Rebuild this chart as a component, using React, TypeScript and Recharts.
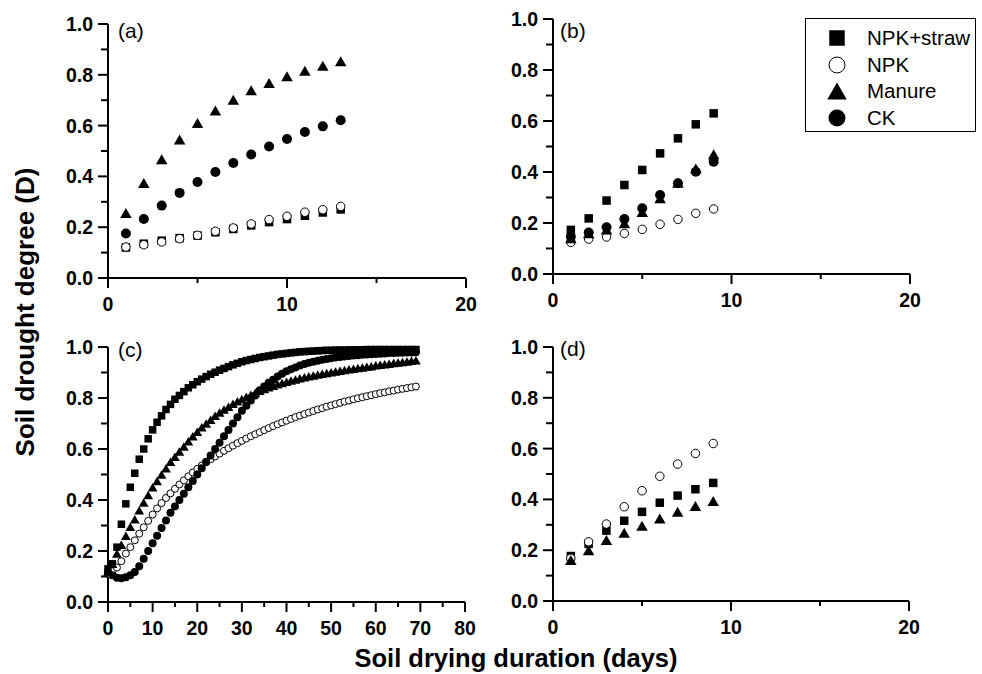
import React from 'react';
import { Scatter, ScatterChart, XAxis, YAxis } from 'recharts';

const FONT = '"Liberation Sans", Arial, Helvetica, sans-serif';

// ---- data ----
const daysA = [1, 2, 3, 4, 5, 6, 7, 8, 9, 10, 11, 12, 13];
const aStraw = [0.12, 0.135, 0.147, 0.157, 0.167, 0.18, 0.193, 0.207, 0.22, 0.232, 0.245, 0.258, 0.27];
const aNPK = [0.122, 0.131, 0.142, 0.155, 0.168, 0.184, 0.197, 0.213, 0.23, 0.243, 0.259, 0.269, 0.282];
const aManure = [0.256, 0.374, 0.468, 0.545, 0.61, 0.659, 0.702, 0.739, 0.768, 0.794, 0.816, 0.836, 0.853];
const aCK = [0.175, 0.232, 0.285, 0.335, 0.378, 0.417, 0.453, 0.486, 0.518, 0.547, 0.575, 0.597, 0.621];

const daysB = [1, 2, 3, 4, 5, 6, 7, 8, 9];
const bStraw = [0.173, 0.218, 0.288, 0.349, 0.408, 0.473, 0.532, 0.587, 0.63];
const bNPK = [0.124, 0.137, 0.145, 0.159, 0.175, 0.195, 0.214, 0.238, 0.255];
const bManure = [0.14, 0.16, 0.175, 0.199, 0.243, 0.297, 0.358, 0.414, 0.47];
const bCK = [0.146, 0.163, 0.183, 0.216, 0.258, 0.31, 0.356, 0.401, 0.44];

const daysC = [
  0, 1, 2, 3, 4, 5, 6, 7, 8, 9, 10, 11, 12, 13, 14, 15, 16, 17, 18, 19, 20, 21, 22, 23, 24,
  25, 26, 27, 28, 29, 30, 31, 32, 33, 34, 35, 36, 37, 38, 39, 40, 41, 42, 43, 44, 45, 46, 47, 48, 49,
  50, 51, 52, 53, 54, 55, 56, 57, 58, 59, 60, 61, 62, 63, 64, 65, 66, 67, 68, 69,
];
const cStraw = [
  0.13, 0.15, 0.215, 0.305, 0.385, 0.45, 0.505, 0.56, 0.6, 0.64, 0.675, 0.705, 0.73, 0.755, 0.775,
  0.795, 0.81, 0.825, 0.84, 0.852, 0.864, 0.874, 0.884, 0.893, 0.901, 0.909, 0.916, 0.923, 0.93, 0.936,
  0.942, 0.947, 0.951, 0.955, 0.959, 0.962, 0.965, 0.968, 0.971, 0.973, 0.975, 0.977, 0.979, 0.981, 0.982,
  0.983, 0.984, 0.985, 0.986, 0.987, 0.987, 0.988, 0.988, 0.988, 0.989, 0.989, 0.989, 0.989, 0.99, 0.99,
  0.99, 0.99, 0.99, 0.99, 0.99, 0.99, 0.99, 0.99, 0.99, 0.99,
];
const cNPK = [
  0.11, 0.12, 0.135, 0.16, 0.19, 0.215, 0.242, 0.268, 0.293, 0.318, 0.343, 0.367, 0.388, 0.408, 0.426,
  0.444, 0.461, 0.477, 0.493, 0.508, 0.522, 0.535, 0.548, 0.56, 0.571, 0.582, 0.593, 0.603, 0.613, 0.623,
  0.632, 0.641, 0.65, 0.658, 0.666, 0.674, 0.682, 0.69, 0.697, 0.704, 0.711, 0.718, 0.725, 0.731, 0.737,
  0.743, 0.749, 0.755, 0.76, 0.766, 0.771, 0.776, 0.781, 0.786, 0.79, 0.795, 0.799, 0.803, 0.807, 0.811,
  0.815, 0.819, 0.822, 0.826, 0.829, 0.833, 0.836, 0.839, 0.842, 0.845,
];
const cManure = [
  0.12, 0.15, 0.19, 0.225, 0.26, 0.295, 0.325, 0.36, 0.39, 0.42, 0.45, 0.475, 0.5, 0.525, 0.55,
  0.57, 0.59, 0.61, 0.63, 0.65, 0.668, 0.685, 0.7, 0.715, 0.73, 0.743, 0.755, 0.766, 0.777, 0.787,
  0.796, 0.805, 0.813, 0.821, 0.828, 0.835, 0.842, 0.848, 0.854, 0.859, 0.864, 0.869, 0.873, 0.877, 0.881,
  0.885, 0.888, 0.892, 0.895, 0.898, 0.901, 0.904, 0.907, 0.91, 0.913, 0.915, 0.918, 0.92, 0.923, 0.925,
  0.928, 0.93, 0.932, 0.934, 0.937, 0.939, 0.941, 0.943, 0.946, 0.948,
];
const cCK = [
  0.12, 0.105, 0.095, 0.093, 0.097, 0.105, 0.118, 0.14, 0.17, 0.2, 0.23, 0.26, 0.29, 0.32, 0.35,
  0.375, 0.4, 0.425, 0.45, 0.475, 0.5, 0.525, 0.55, 0.575, 0.6, 0.625, 0.65, 0.675, 0.7, 0.725,
  0.75, 0.77, 0.79, 0.81, 0.83, 0.845, 0.86, 0.872, 0.884, 0.895, 0.905, 0.913, 0.92, 0.927, 0.933,
  0.938, 0.942, 0.946, 0.95, 0.953, 0.956, 0.959, 0.961, 0.963, 0.965, 0.967, 0.968, 0.97, 0.971, 0.972,
  0.973, 0.974, 0.975, 0.976, 0.976, 0.977, 0.977, 0.978, 0.978, 0.979,
];

const daysD = [1, 2, 3, 4, 5, 6, 7, 8, 9];
const dStraw = [0.177, 0.225, 0.277, 0.316, 0.351, 0.387, 0.415, 0.44, 0.465];
const dNPK = [0.168, 0.233, 0.303, 0.371, 0.434, 0.491, 0.539, 0.581, 0.62];
const dManure = [0.161, 0.2, 0.24, 0.269, 0.296, 0.325, 0.351, 0.374, 0.394];

const yTicks = [0, 0.1, 0.2, 0.3, 0.4, 0.5, 0.6, 0.7, 0.8, 0.9, 1.0];
const xTicksShort = [0, 5, 10, 15, 20];
const xLabelsShort = [0, 10, 20];
const xTicksLong = [0, 5, 10, 15, 20, 25, 30, 35, 40, 45, 50, 55, 60, 65, 70, 75, 80];
const xLabelsLong = [0, 10, 20, 30, 40, 50, 60, 70, 80];

const legendItems = [
  { kind: 'square', name: 'NPK+straw' },
  { kind: 'open', name: 'NPK' },
  { kind: 'triangle', name: 'Manure' },
  { kind: 'dot', name: 'CK' },
];

const toPoints = (days, vals) => days.map((d, i) => ({ x: d, y: vals[i] }));

const Marker = ({ kind, cx, cy, s }) => {
  if (cx == null || cy == null) return null;
  if (kind === 'square') return <rect x={cx - s / 2} y={cy - s / 2} width={s} height={s} fill="#000" />;
  if (kind === 'open') return <circle cx={cx} cy={cy} r={s / 2 - 0.5} fill="#fff" stroke="#000" strokeWidth={1} />;
  if (kind === 'triangle') {
    const w = s * 1.15;
    const h = s;
    return <polygon points={`${cx},${cy - h / 2} ${cx - w / 2},${cy + h / 2} ${cx + w / 2},${cy + h / 2}`} fill="#000" />;
  }
  return <circle cx={cx} cy={cy} r={s / 2} fill="#000" />;
};

const XTick = ({ x, y, payload, labels }) => {
  const major = labels.includes(payload.value);
  const axisY = y - 12;
  return (
    <g>
      <line x1={x} x2={x} y1={axisY} y2={axisY + (major ? 10 : 5)} stroke="#000" strokeWidth={2} />
      {major && (
        <text x={x} y={axisY + 33} textAnchor="middle" fontFamily={FONT} fontWeight="bold" fontSize={19.5} fill="#000">
          {payload.value}
        </text>
      )}
    </g>
  );
};

const YTick = ({ x, y, payload }) => {
  const major = Math.round(payload.value * 10) % 2 === 0;
  const axisX = x + 12;
  return (
    <g>
      <line x1={axisX - (major ? 10 : 7)} x2={axisX} y1={y} y2={y} stroke="#000" strokeWidth={2} />
      {major && (
        <text x={axisX - 15} y={y} dy="0.36em" textAnchor="end" fontFamily={FONT} fontWeight="bold" fontSize={19.5} fill="#000">
          {payload.value.toFixed(1)}
        </text>
      )}
    </g>
  );
};

const Panel = ({ plot, xMax, xTicks, xLabels, series, size }) => {
  // margin top 10 + bottom 10 + x axis 30 ; margin left 10 + y axis 50 + right 20
  const width = plot.w + 80;
  const height = plot.h + 50;
  return (
    <div style={{ position: 'absolute', left: plot.left - 60, top: plot.top - 10 }}>
      <ScatterChart width={width} height={height} margin={{ top: 10, right: 20, bottom: 10, left: 10 }}>
        <XAxis
          type="number"
          dataKey="x"
          domain={[0, xMax]}
          ticks={xTicks}
          interval={0}
          height={30}
          tickSize={10}
          tickMargin={2}
          tickLine={false}
          axisLine={{ stroke: '#000', strokeWidth: 2 }}
          tick={(p) => <XTick {...p} labels={xLabels} />}
        />
        <YAxis
          type="number"
          dataKey="y"
          domain={[0, 1]}
          ticks={yTicks}
          interval={0}
          width={50}
          tickSize={10}
          tickMargin={2}
          tickLine={false}
          axisLine={{ stroke: '#000', strokeWidth: 2 }}
          tick={(p) => <YTick {...p} />}
        />
        {series.map((s) => (
          <Scatter
            key={s.kind}
            data={toPoints(s.days, s.values)}
            isAnimationActive={false}
            shape={(p) => <Marker kind={s.kind} cx={p.cx} cy={p.cy} s={size[s.kind]} />}
          />
        ))}
      </ScatterChart>
    </div>
  );
};

const bigSize = { square: 8.5, open: 9.5, triangle: 10, dot: 10 };
const smallSize = { square: 7.5, open: 8, triangle: 8.5, dot: 8 };

const panels = [
  {
    id: 'a',
    plot: { left: 108, top: 24, w: 358, h: 254 },
    xMax: 20, xTicks: xTicksShort, xLabels: xLabelsShort, size: bigSize,
    label: { x: 118, y: 31 },
    series: [
      { kind: 'square', days: daysA, values: aStraw },
      { kind: 'open', days: daysA, values: aNPK },
      { kind: 'triangle', days: daysA, values: aManure },
      { kind: 'dot', days: daysA, values: aCK },
    ],
  },
  {
    id: 'b',
    plot: { left: 553, top: 19, w: 357, h: 255 },
    xMax: 20, xTicks: xTicksShort, xLabels: xLabelsShort, size: bigSize,
    label: { x: 560, y: 31 },
    series: [
      { kind: 'square', days: daysB, values: bStraw },
      { kind: 'open', days: daysB, values: bNPK },
      { kind: 'triangle', days: daysB, values: bManure },
      { kind: 'dot', days: daysB, values: bCK },
    ],
  },
  {
    id: 'c',
    plot: { left: 108, top: 347, w: 357, h: 255 },
    xMax: 80, xTicks: xTicksLong, xLabels: xLabelsLong, size: smallSize,
    label: { x: 118, y: 350 },
    series: [
      { kind: 'square', days: daysC, values: cStraw },
      { kind: 'open', days: daysC, values: cNPK },
      { kind: 'triangle', days: daysC, values: cManure },
      { kind: 'dot', days: daysC, values: cCK },
    ],
  },
  {
    id: 'd',
    plot: { left: 553, top: 347, w: 356, h: 254 },
    xMax: 20, xTicks: xTicksShort, xLabels: xLabelsShort, size: bigSize,
    label: { x: 560, y: 349 },
    series: [
      { kind: 'square', days: daysD, values: dStraw },
      { kind: 'open', days: daysD, values: dNPK },
      { kind: 'triangle', days: daysD, values: dManure },
    ],
  },
];

const legendSize = { square: 15.5, open: 17, triangle: 17, dot: 17 };

export default function App() {
  return (
    <div style={{ position: 'absolute', left: 0, top: 0, width: 982, height: 674, background: '#fff', fontFamily: FONT, color: '#000', overflow: 'hidden' }}>
      {panels.map((p) => (
        <React.Fragment key={p.id}>
          <Panel plot={p.plot} xMax={p.xMax} xTicks={p.xTicks} xLabels={p.xLabels} series={p.series} size={p.size} />
          <div style={{ position: 'absolute', left: p.label.x, top: p.label.y - 13, fontSize: 21, lineHeight: '26px' }}>
            ({p.id})
          </div>
        </React.Fragment>
      ))}

      {/* legend box */}
      <div style={{ position: 'absolute', left: 805, top: 18, width: 171, height: 114, border: '1px solid #000', boxSizing: 'border-box', background: '#fff' }}>
        {legendItems.map((it, i) => (
          <div key={it.name} style={{ position: 'absolute', left: 0, top: 6 + i * 26.7, height: 26, width: 169 }}>
            <svg width={40} height={26} style={{ position: 'absolute', left: 11, top: 0 }}>
              <Marker kind={it.kind} cx={20} cy={13} s={legendSize[it.kind]} />
            </svg>
            <span style={{ position: 'absolute', left: 61, top: 0, lineHeight: '26px', fontSize: 20.5, whiteSpace: 'nowrap' }}>
              {it.name}
            </span>
          </div>
        ))}
      </div>

      {/* axis titles */}
      <div
        style={{
          position: 'absolute', left: 25, top: 312, transform: 'translate(-50%, -50%) rotate(-90deg)',
          fontWeight: 'bold', fontSize: 26, lineHeight: '26px', whiteSpace: 'nowrap',
        }}
      >
        Soil drought degree (D)
      </div>
      <div
        style={{
          position: 'absolute', left: 516, top: 658, transform: 'translate(-50%, -50%)',
          fontWeight: 'bold', fontSize: 25.5, lineHeight: '22px', whiteSpace: 'nowrap',
        }}
      >
        Soil drying duration (days)
      </div>
    </div>
  );
}
